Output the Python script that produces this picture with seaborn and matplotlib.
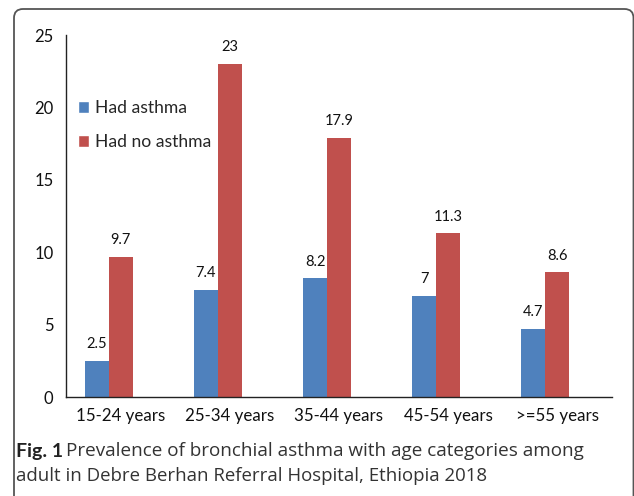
import matplotlib
matplotlib.use("Agg")
import matplotlib.pyplot as plt
from matplotlib.patches import FancyBboxPatch, Patch
from matplotlib.transforms import IdentityTransform
import seaborn as sns
import pandas as pd

categories = ["15-24 years", "25-34 years", "35-44 years", "45-54 years", ">=55 years"]
had_asthma = [2.5, 7.4, 8.2, 7, 4.7]
had_no_asthma = [9.7, 23, 17.9, 11.3, 8.6]
series_names = ["Had asthma", "Had no asthma"]
colors = ["#4F81BD", "#C0504D"]

rows = []
for c, a, b in zip(categories, had_asthma, had_no_asthma):
    rows.append({"cat": c, "series": series_names[0], "value": a})
    rows.append({"cat": c, "series": series_names[1], "value": b})
    rows.append({"cat": c, "series": " ", "value": 0.0})
df = pd.DataFrame(rows)

sns.set_style("white")
plt.rcParams["font.family"] = ["Lato", "DejaVu Sans"]

W, H = 634, 496
fig = plt.figure(figsize=(W / 100, H / 100), dpi=100)
ax = fig.add_axes([66 / W, 1 - 397 / H, (612 - 66) / W, (397 - 35) / H])

sns.barplot(data=df, x="cat", y="value", hue="series", order=categories,
            hue_order=series_names + [" "],
            palette=colors + ["#FFFFFF"], width=0.659, saturation=1,
            legend=False, ax=ax, edgecolor="none", linewidth=0)

for cont in ax.containers[:2]:
    ax.bar_label(cont, labels=[f"{v:g}" for v in cont.datavalues],
                 padding=7, fontsize=10.5, color="#111111")

ax.set_ylim(0, 25)
ax.set_xlim(-0.5, 4.5)
ax.set_yticks([0, 5, 10, 15, 20, 25])
ax.set_xlabel("")
ax.set_ylabel("")
ax.set_xticks(range(5))
ax.set_xticklabels(categories, fontsize=12.2, color="#111111")
ax.set_xticks([i - 0.5 for i in range(6)], minor=True)
ax.tick_params(axis="x", which="major", length=0, pad=8)
ax.tick_params(axis="x", which="minor", length=5, width=1, color="#222222", direction="out")
ax.tick_params(axis="y", length=5, width=1, color="#222222", direction="out",
               labelsize=12, labelcolor="#111111", pad=4)
for s in ["top", "right"]:
    ax.spines[s].set_visible(False)
for s in ["left", "bottom"]:
    ax.spines[s].set_color("#222222")
    ax.spines[s].set_linewidth(1)

handles = [Patch(facecolor=colors[0]), Patch(facecolor=colors[1])]
ax.legend(handles, series_names, loc="center left",
          bbox_to_anchor=((78 - 66) / (612 - 66), (397 - 125) / (397 - 35)),
          frameon=False, fontsize=12.6, handlelength=0.6, handleheight=0.7,
          handletextpad=0.35, labelspacing=1.0, borderpad=0, borderaxespad=0)

# outer rounded border
box = FancyBboxPatch((14, -30), 619.5, (H - 9) + 30, boxstyle="round,pad=0,rounding_size=9",
                     transform=IdentityTransform(), facecolor="none",
                     edgecolor="#555555", linewidth=1.3)
fig.patches.append(box)

cap_family = ["Open Sans", "DejaVu Sans"]
fig.text(16 / W, 1 - 451 / H, "Fig. 1", fontsize=14, fontweight="bold",
         family=["Lato", "DejaVu Sans"], color="#222222", va="center", ha="left")
fig.text(66 / W, 1 - 451 / H,
         "Prevalence of bronchial asthma with age categories among",
         fontsize=13.6, family=cap_family, color="#333333", va="center", ha="left")
fig.text(16 / W, 1 - 476 / H,
         "adult in Debre Berhan Referral Hospital, Ethiopia 2018",
         fontsize=13.4, family=cap_family, color="#333333", va="center", ha="left")

fig.savefig("out.png", dpi=100)
